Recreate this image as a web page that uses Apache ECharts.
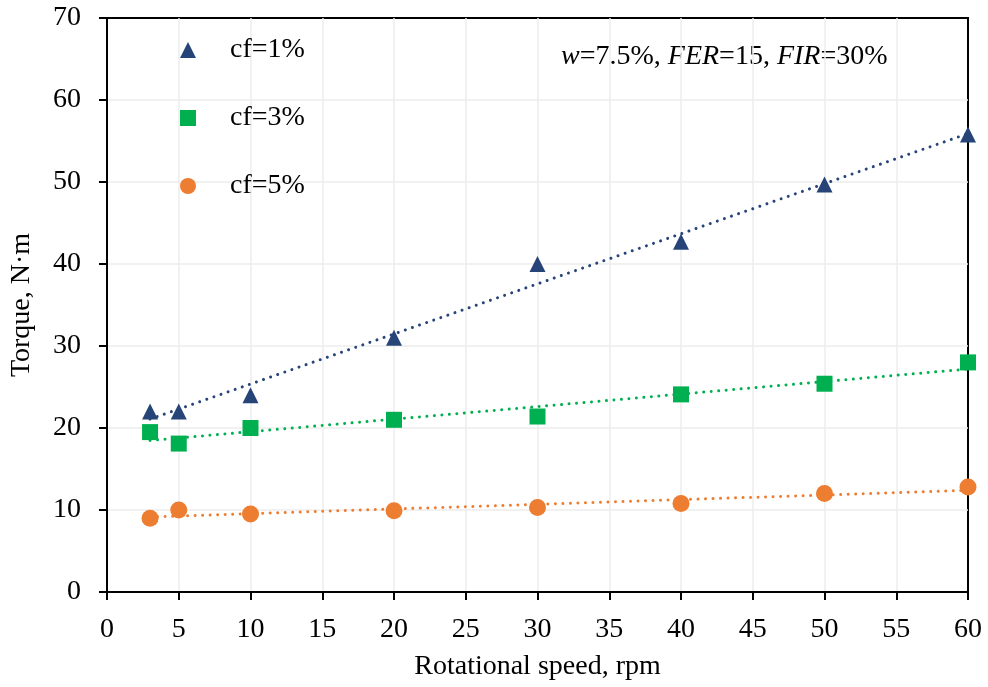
<!DOCTYPE html>
<html>
<head>
<meta charset="utf-8">
<script src="https://cdn.jsdelivr.net/npm/echarts@6/dist/echarts.min.js"></script>
<style>
  html, body { margin: 0; padding: 0; background: #fff; }
  #chart { width: 988px; height: 687px; }
</style>
</head>
<body>
<div id="chart"></div>
<script>
// Rotational speed (rpm) at which torque was measured
var speeds = [3, 5, 10, 20, 30, 40, 50, 60];
// Measured torque (N·m) for each fibre content
var torqueCf1 = [22, 22, 24, 31, 40, 42.7, 49.7, 55.8];
var torqueCf3 = [19.5, 18.1, 20, 21, 21.4, 24.1, 25.4, 28];
var torqueCf5 = [9, 10, 9.5, 9.9, 10.3, 10.8, 12, 12.8];
var seriesNames = ['cf=1%', 'cf=3%', 'cf=5%'];

var FONT = '"Liberation Serif", "Times New Roman", serif';
var colors = ['#264478', '#00B050', '#ED7D31'];
var symbols = ['triangle', 'rect', 'circle'];
var symbolSizes = [16, 16, 17];

function pairs(xs, ys) {
  return xs.map(function (x, i) { return [x, ys[i]]; });
}

// Least-squares linear trend across the measured range
function trend(xs, ys) {
  var n = xs.length, mx = 0, my = 0;
  for (var i = 0; i < n; i++) { mx += xs[i]; my += ys[i]; }
  mx /= n; my /= n;
  var sxy = 0, sxx = 0;
  for (var j = 0; j < n; j++) {
    sxy += (xs[j] - mx) * (ys[j] - my);
    sxx += (xs[j] - mx) * (xs[j] - mx);
  }
  var b = sxy / sxx, a = my - b * mx;
  var x0 = xs[0], x1 = xs[n - 1];
  return [[x0, a + b * x0], [x1, a + b * x1]];
}

var allData = [torqueCf1, torqueCf3, torqueCf5];
var series = [];
allData.forEach(function (ys, k) {
  series.push({
    name: seriesNames[k] + ' trend',
    type: 'line',
    data: trend(speeds, ys),
    symbol: 'none',
    silent: true,
    z: 2,
    lineStyle: { color: colors[k], width: 3, type: [0.01, 7.5], cap: 'round' }
  });
});
allData.forEach(function (ys, k) {
  series.push({
    name: seriesNames[k],
    type: 'scatter',
    data: pairs(speeds, ys),
    symbol: symbols[k],
    symbolSize: symbolSizes[k],
    z: 5,
    itemStyle: { color: colors[k], opacity: 1 }
  });
});

var axisText = { fontFamily: FONT, fontSize: 28, color: '#000' };

var chart = echarts.init(document.getElementById('chart'), null, { renderer: 'canvas' });
chart.setOption({
  animation: false,
  backgroundColor: '#fff',
  grid: {
    left: 107, right: 20, top: 18, bottom: 95,
    outerBoundsMode: 'none',
    containLabel: false,
    show: true, borderColor: '#000', borderWidth: 2, backgroundColor: 'transparent'
  },
  legend: {
    data: seriesNames.map(function (n, k) { return { name: n, icon: symbols[k] }; }),
    orient: 'vertical',
    left: 175,
    top: 31,
    itemWidth: 16,
    itemHeight: 16,
    itemGap: 40,
    textStyle: { fontFamily: FONT, fontSize: 28, color: '#000', padding: [0, 0, 0, 29], lineHeight: 28 }
  },
  xAxis: {
    type: 'value',
    min: 0, max: 60, interval: 5,
    name: 'Rotational speed, rpm',
    nameLocation: 'middle',
    nameGap: 61,
    nameTextStyle: axisText,
    axisLine: { show: true, lineStyle: { color: '#000', width: 2 } },
    axisTick: { show: true, inside: false, length: 8, lineStyle: { color: '#000', width: 2 } },
    axisLabel: Object.assign({ margin: 24 }, axisText),
    splitLine: { show: true, showMinLine: false, showMaxLine: false, lineStyle: { color: '#EDEDED', width: 1.5 } }
  },
  yAxis: {
    type: 'value',
    min: 0, max: 70, interval: 10,
    name: 'Torque, N·m',
    nameLocation: 'middle',
    nameGap: 71,
    nameTextStyle: axisText,
    axisLine: { show: true, lineStyle: { color: '#000', width: 2 } },
    axisTick: { show: true, inside: false, length: 8, lineStyle: { color: '#000', width: 2 } },
    axisLabel: Object.assign({ margin: 26 }, axisText),
    splitLine: { show: true, showMinLine: false, showMaxLine: false, lineStyle: { color: '#EDEDED', width: 1.5 } }
  },
  graphic: [{
    type: 'text',
    left: 561,
    top: 43,
    style: {
      text: '{i|w}=7.5%, {i|FER}=15, {i|FIR}=30%',
      fontFamily: FONT,
      fontSize: 28,
      fill: '#000',
      rich: {
        i: { fontFamily: FONT, fontSize: 28, fontStyle: 'italic', fill: '#000' }
      }
    }
  }],
  series: series
});
</script>
</body>
</html>
